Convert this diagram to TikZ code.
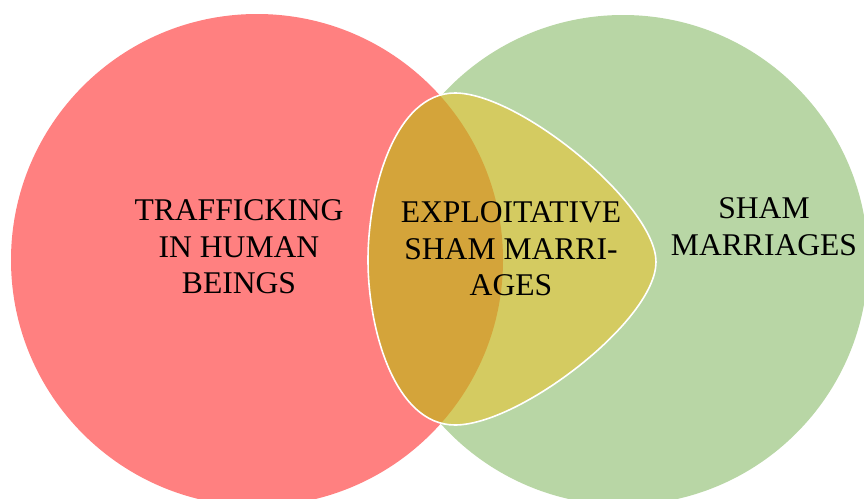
\documentclass[tikz,border=0pt]{standalone}
\usepackage{fontspec}
\setmainfont{Liberation Serif}
\definecolor{redset}{HTML}{FF8080}
\definecolor{greenset}{HTML}{B8D6A5}
\definecolor{lensset}{HTML}{C0945A}
\definecolor{yellowset}{HTML}{D4CB61}
\definecolor{orangeset}{HTML}{D4A43A}
\tikzset{
  label/.style={anchor=north, inner sep=0pt, align=center, text=black,
    font=\fontsize{31.6}{36.6}\selectfont},
}
\newcommand{\redcircle}{(257,260) circle[radius=246]}
\newcommand{\greencircle}{(623,260) circle[radius=245]}
\newcommand{\yellowshape}{(455,93) .. controls (520,93) and (656,205) .. (656,262)
  .. controls (656,320) and (520,425) .. (455,425)
  .. controls (395,425) and (368,330) .. (368,260)
  .. controls (368,190) and (395,93) .. (455,93) -- cycle}
\begin{document}
\begin{tikzpicture}[x=1pt,y=-1pt]
\useasboundingbox (0,0) rectangle (864,498);
\begin{scope}
\clip (0,0) rectangle (864,498);
\fill[redset] \redcircle;
\fill[greenset] \greencircle;
\begin{scope}
  \clip \redcircle;
  \fill[lensset] \greencircle;
\end{scope}
\fill[yellowset] \yellowshape;
\begin{scope}
  \clip \redcircle;
  \fill[orangeset] \yellowshape;
\end{scope}
\draw[white, line width=1.6pt] \yellowshape;
\end{scope}
\node[label] (thb) at (239,199.5) {TRAFFICKING\\IN HUMAN\\BEINGS};
\node[label] (esm) at (511,201.5) {EXPLOITATIVE\\SHAM MARRI-\\AGES};
\node[label] (sm) at (764,197.5) {SHAM\\MARRIAGES};
\end{tikzpicture}
\end{document}
